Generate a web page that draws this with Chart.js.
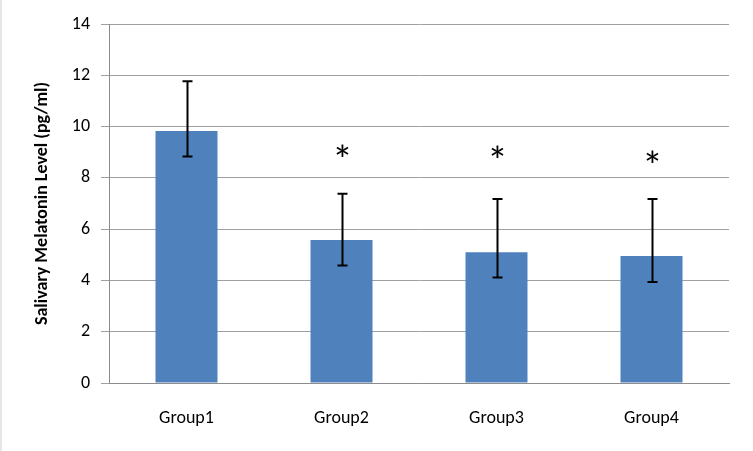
<!DOCTYPE html>
<html>
<head>
<meta charset="utf-8">
<script src="https://cdn.jsdelivr.net/npm/chart.js@4.4.0/dist/chart.umd.min.js"></script>
<style>
  html, body { margin: 0; padding: 0; background: #fff; }
  #wrap { width: 753px; height: 451px; position: relative; }
</style>
</head>
<body>
<div id="wrap"><canvas id="chart" width="753" height="451"></canvas></div>
<script>
// values
const categories = ['Group1', 'Group2', 'Group3', 'Group4'];
const means = [9.83, 5.58, 5.10, 4.95];
const errUpper = [11.77, 7.38, 7.18, 7.18];
const errLower = [8.83, 4.58, 4.11, 3.94];
const starLevel = [null, 8.98, 8.95, 8.75];
const yTicks = [0, 2, 4, 6, 8, 10, 12, 14];

const FONT = 'Carlito, Lato, sans-serif';

// error bars + significance stars
const extras = {
  id: 'extras',
  beforeDraw(chart) {
    const ctx = chart.ctx;
    ctx.save();
    ctx.fillStyle = '#fff';
    ctx.fillRect(0, 0, chart.width, chart.height);
    ctx.fillStyle = '#e6e6e6';
    ctx.fillRect(0, 0, 2, chart.height);
    ctx.restore();
  },
  afterDatasetsDraw(chart) {
    const ctx = chart.ctx;
    const x = chart.scales.x, y = chart.scales.y;
    ctx.save();
    ctx.strokeStyle = '#000';
    ctx.lineWidth = 2;
    categories.forEach((c, i) => {
      const cx = Math.round(x.getPixelForValue(i)) + 0.5;
      const top = y.getPixelForValue(errUpper[i]);
      const bot = y.getPixelForValue(errLower[i]);
      ctx.beginPath();
      ctx.moveTo(cx, top); ctx.lineTo(cx, bot);
      ctx.moveTo(cx - 5, top); ctx.lineTo(cx + 5, top);
      ctx.moveTo(cx - 5, bot); ctx.lineTo(cx + 5, bot);
      ctx.stroke();
      if (starLevel[i] != null) {
        ctx.fillStyle = '#000';
        ctx.font = '42px ' + FONT;
        ctx.textAlign = 'center';
        ctx.textBaseline = 'middle';
        ctx.fillText('*', cx, y.getPixelForValue(starLevel[i]) + 11);
      }
    });
    ctx.restore();
  }
};

new Chart(document.getElementById('chart'), {
  type: 'bar',
  data: {
    labels: categories,
    datasets: [{
      data: means,
      backgroundColor: '#4f81bd',
      borderWidth: 0,
      barPercentage: 0.4,
      categoryPercentage: 1.0
    }]
  },
  options: {
    responsive: false,
    animation: false,
    layout: { padding: { left: 0, right: 24, top: 24, bottom: 0 } },
    plugins: { legend: { display: false }, tooltip: { enabled: false } },
    scales: {
      x: {
        grid: { display: false },
        border: { color: '#8c8c8c', width: 1 },
        ticks: { color: '#000', font: { family: FONT, size: 18 }, padding: 17 },
        afterFit(s) { s.height = 68; }
      },
      y: {
        min: 0, max: 14,
        afterBuildTicks(s) { s.ticks = yTicks.map(v => ({ value: v })); },
        grid: { color: '#a0a0a0', lineWidth: 1, tickLength: 8 },
        border: { color: '#8c8c8c', width: 1 },
        ticks: { color: '#000', font: { family: FONT, size: 18 }, padding: 11 },
        title: {
          display: true,
          text: 'Salivary Melatonin Level (pg/ml)',
          color: '#000',
          font: { family: FONT, size: 18, weight: 'bold' },
          padding: { top: 32, bottom: 0 }
        },
        afterFit(s) { s.width = 109; }
      }
    }
  },
  plugins: [extras]
});
</script>
</body>
</html>
